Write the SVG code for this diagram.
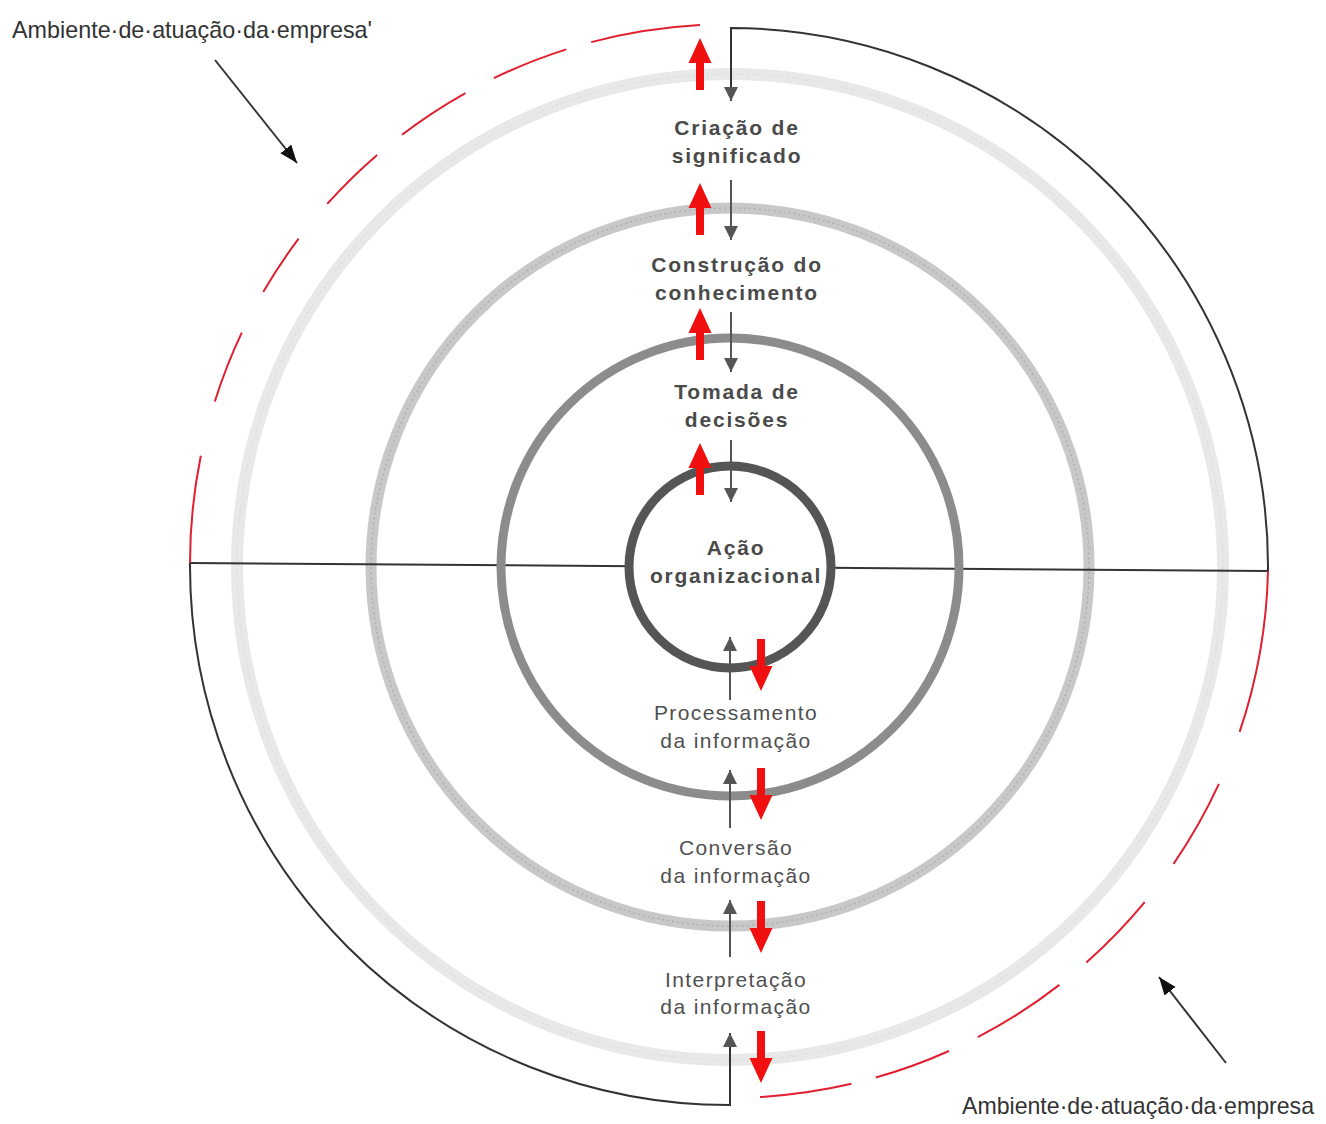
<svg xmlns="http://www.w3.org/2000/svg" width="1326" height="1124" viewBox="0 0 1326 1124">
<style>
.bold{font-family:"Liberation Sans",Arial,sans-serif;font-weight:bold;font-size:21px;fill:#4a4a4a;letter-spacing:1.8px;text-anchor:middle}
.reg{font-family:"Liberation Sans",Arial,sans-serif;font-size:21px;fill:#505050;letter-spacing:1.4px;text-anchor:middle}
.lab{font-family:"Liberation Sans",Arial,sans-serif;font-size:24px;fill:#333}
.blk{fill:none;stroke:#333;stroke-width:2}
.red{fill:none;stroke:#e02030;stroke-width:2}
.thin{fill:none;stroke:#555;stroke-width:2}
.ring{fill:none}
</style>
<defs>
<marker id="gh" markerUnits="userSpaceOnUse" markerWidth="14" markerHeight="18" refX="14" refY="7" orient="auto">
<path d="M0,0 L14,7 L0,14 Z" fill="#555"/>
</marker>
<marker id="bh" markerUnits="userSpaceOnUse" markerWidth="18" markerHeight="16" refX="18" refY="7" orient="auto">
<path d="M0,0 L18,7 L0,14 Z" fill="#111"/>
</marker>
<path id="redUp" d="M0,0 L11.5,25 L4,25 L4,52 L-4,52 L-4,25 L-11.5,25 Z" fill="#f01010"/>
<path id="redDown" d="M0,0 L11.5,-25 L4,-25 L4,-52 L-4,-52 L-4,-25 L-11.5,-25 Z" fill="#f01010"/>
</defs>
<rect width="1326" height="1124" fill="#fff"/>

<g id="rings">
<g id="ring-criacao">
<circle class="ring" cx="730" cy="567" r="493" stroke="#e8e8e8" stroke-width="12"/>
<circle class="ring" cx="730" cy="567" r="493" stroke="#d8d8d8" stroke-width="1" stroke-dasharray="2 3"/>
</g>
<g id="ring-construcao">
<circle class="ring" cx="730" cy="567" r="359" stroke="#c8c8c8" stroke-width="11"/>
<circle class="ring" cx="730" cy="567" r="359" stroke="#b0b0b0" stroke-width="1.5" stroke-dasharray="2 3"/>
</g>
</g>

<g id="connectors">
<line class="blk" x1="190" y1="563" x2="1268" y2="571"/>
<path class="blk" d="M1268,571 A539,539 0 0 0 731,28 L731,101" marker-end="url(#gh)"/>
<path class="blk" d="M190,563 A539,539 0 0 0 730,1105 L730,1033" marker-end="url(#gh)"/>
<path class="red" d="M190,563 A539,539 0 0 1 700,25" stroke-dasharray="108 56 74 46 64 45 70 32 76 32 78 26 130"/>
<path class="red" d="M1268,571 A539,539 0 0 1 760,1097" stroke-dasharray="164 56 92 48 84 35 97 32 78 25 120"/>
<line class="blk" x1="215" y1="60" x2="297" y2="163" marker-end="url(#bh)"/>
<line class="blk" x1="1226" y1="1063" x2="1159" y2="977" marker-end="url(#bh)"/>
</g>

<g id="ring-tomada">
<circle class="ring" cx="730" cy="567" r="229" stroke="#8c8c8c" stroke-width="9"/>
</g>
<g id="ring-acao">
<circle cx="730" cy="567" r="101" fill="#fff" stroke="#555" stroke-width="9"/>
</g>

<g id="flow-arrows">
<line class="thin" x1="731" y1="180" x2="731" y2="240" marker-end="url(#gh)"/>
<line class="thin" x1="731" y1="312" x2="731" y2="372" marker-end="url(#gh)"/>
<line class="thin" x1="731" y1="440" x2="731" y2="502" marker-end="url(#gh)"/>
<line class="thin" x1="730" y1="700" x2="730" y2="637" marker-end="url(#gh)"/>
<line class="thin" x1="730" y1="828" x2="730" y2="770" marker-end="url(#gh)"/>
<line class="thin" x1="730" y1="957" x2="730" y2="900" marker-end="url(#gh)"/>
<use href="#redUp" x="700" y="38"/>
<use href="#redUp" x="700" y="183"/>
<use href="#redUp" x="700" y="308"/>
<use href="#redUp" x="700" y="443"/>
<use href="#redDown" x="761" y="691"/>
<use href="#redDown" x="761" y="820"/>
<use href="#redDown" x="761" y="953"/>
<use href="#redDown" x="761" y="1083"/>
</g>

<g id="node-criacao"><text class="bold" x="737" y="135">Criação de</text><text class="bold" x="737" y="163">significado</text></g>
<g id="node-construcao"><text class="bold" x="737" y="272">Construção do</text><text class="bold" x="737" y="300">conhecimento</text></g>
<g id="node-tomada"><text class="bold" x="737" y="399">Tomada de</text><text class="bold" x="737" y="427">decisões</text></g>
<g id="node-acao"><text class="bold" x="736" y="555">Ação</text><text class="bold" x="736" y="583">organizacional</text></g>
<g id="node-processamento"><text class="reg" x="736" y="720">Processamento</text><text class="reg" x="736" y="748">da informação</text></g>
<g id="node-conversao"><text class="reg" x="736" y="855">Conversão</text><text class="reg" x="736" y="883">da informação</text></g>
<g id="node-interpretacao"><text class="reg" x="736" y="987">Interpretação</text><text class="reg" x="736" y="1014">da informação</text></g>

<g id="label-top"><text class="lab" x="12" y="38" textLength="360" lengthAdjust="spacingAndGlyphs">Ambiente·de·atuação·da·empresa'</text></g>
<g id="label-bottom"><text class="lab" x="962" y="1114" textLength="352" lengthAdjust="spacingAndGlyphs">Ambiente·de·atuação·da·empresa</text></g>
</svg>
